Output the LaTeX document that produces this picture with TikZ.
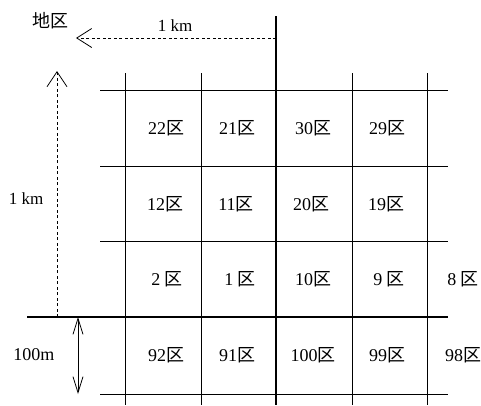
\documentclass[tikz,border=0pt]{standalone}
\usepackage{fontspec}
\setmainfont{Liberation Serif}
\newfontfamily\jp{Noto Sans CJK JP}
\usetikzlibrary{arrows.meta}
\begin{document}
\begin{tikzpicture}[x=1pt,y=-1pt,
  gridline/.style={line width=0.8pt},
  heavyline/.style={line width=1.6pt},
  lbl/.style={font=\fontsize{18}{18}\selectfont, inner sep=0pt},
  dimdash/.style={line width=0.7pt, dash pattern=on 3pt off 2.5pt}
]
\useasboundingbox (0,0) rectangle (481,405);
% vertical grid lines
\draw[gridline] (125,73) -- (125,405);
\draw[gridline] (201,73) -- (201,405);
\draw[heavyline] (276,16) -- (276,405);
\draw[gridline] (352,73) -- (352,405);
\draw[gridline] (427,73) -- (427,405);
% horizontal grid lines
\draw[gridline] (100,90) -- (448,90);
\draw[gridline] (100,166) -- (448,166);
\draw[gridline] (100,241) -- (448,241);
\draw[line width=1.3pt] (27,317) -- (448,317);
\draw[gridline] (100,394) -- (448,394);
% dimension arrows
\coordinate (hA) at (276,38);
\coordinate (hB) at (76,38);
\draw[dimdash,-{Straight Barb[length=15pt,width=19pt,line width=0.8pt]}] (hA) -- (hB);
\coordinate (vA) at (57,317);
\coordinate (vB) at (57,71);
\draw[dimdash,-{Straight Barb[length=15pt,width=20pt,line width=0.8pt]}] (vA) -- (vB);
\coordinate (mA) at (78,317);
\coordinate (mB) at (78,394);
\draw[line width=0.8pt,{Straight Barb[length=16pt,width=10pt,line width=0.8pt]}-{Straight Barb[length=16pt,width=10pt,line width=0.8pt]}] (mA) -- (mB);
% labels
\node[lbl] (chiku) at (50,21) {\jp 地区};
\node[lbl, font=\fontsize{17}{17}\selectfont] (kmh) at (175,26) {1 km};
\node[lbl, font=\fontsize{17}{17}\selectfont] (kmv) at (26,199) {1 km};
\node[lbl] (hm) at (34,355) {100m};
% cell labels
\node[lbl] (c22) at (166,128) {22{\jp 区}};
\node[lbl] (c21) at (237,128) {21{\jp 区}};
\node[lbl] (c30) at (313,128) {30{\jp 区}};
\node[lbl] (c29) at (387,128) {29{\jp 区}};
\node[lbl] (c12) at (165,204) {12{\jp 区}};
\node[lbl] (c11) at (236,204) {11{\jp 区}};
\node[lbl] (c20) at (311,204) {20{\jp 区}};
\node[lbl] (c19) at (386,204) {19{\jp 区}};
\node[lbl] (c2) at (167,279) {2 {\jp 区}};
\node[lbl] (c1) at (240,279) {1 {\jp 区}};
\node[lbl] (c10) at (313,279) {10{\jp 区}};
\node[lbl] (c9) at (389,279) {9 {\jp 区}};
\node[lbl] (c8) at (463,279) {8 {\jp 区}};
\node[lbl] (c92) at (166,355) {92{\jp 区}};
\node[lbl] (c91) at (237,355) {91{\jp 区}};
\node[lbl] (c100) at (313,355) {100{\jp 区}};
\node[lbl] (c99) at (387,355) {99{\jp 区}};
\node[lbl] (c98) at (463,355) {98{\jp 区}};
\end{tikzpicture}
\end{document}
